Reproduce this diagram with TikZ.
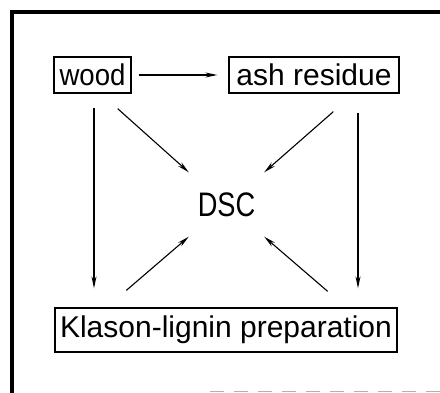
\documentclass[tikz,border=0pt]{standalone}
\usepackage{fontspec}
\setmainfont{Liberation Sans}
\usetikzlibrary{arrows.meta}
\begin{document}
\begin{tikzpicture}[x=1pt,y=-1pt,
  box/.style={draw,line width=1.3pt,inner sep=0pt,minimum height=36pt,font=\fontsize{30}{32}\selectfont},
  conn/.style={line width=1.1pt,-{Stealth[length=12pt,width=5pt]}},
  frame/.style={line width=3.5pt}]
\useasboundingbox (0,0) rectangle (440,393);
\fill[white] (0,0) rectangle (440,393);
\draw[frame] (440,12) -- (12,12) -- (12,393);
\draw[gray!60,line width=1.5pt,dash pattern=on 14pt off 10pt] (210,391.5) -- (440,391.5);
\node[box,minimum width=77pt] (wood) at (92.5,75) {\scalebox{0.92}[1]{wood}};
\node[box,minimum width=170pt] (ash) at (314,75) {ash residue};
\node[box,minimum width=342pt,minimum height=44pt] (klason) at (226,330) {Klason-lignin preparation};
\node[minimum width=75pt,minimum height=64pt,inner sep=0pt,font=\fontsize{34}{36}\selectfont] (dsc) at (226.5,204.5) {\scalebox{0.8}[1]{DSC}};
\draw[conn,shorten <=7pt,shorten >=11pt] (wood.east) -- (ash.west);
\draw[conn,shorten <=14pt,shorten >=19pt] ([xshift=1.5pt]wood.south) -- ([xshift=1.5pt]wood.south |- klason.north);
\draw[conn,shorten <=19pt,shorten >=19pt] ([xshift=44pt]ash.south) -- ([xshift=44pt]ash.south |- klason.north);
\draw[conn] ([shift={(-14,15)}]wood.south east) -- (dsc.north west);
\draw[conn] ([shift={(105,18)}]ash.south west) -- (dsc.north east);
\draw[conn] ([shift={(72,-17)}]klason.north west) -- (dsc.south west);
\draw[conn] ([shift={(-70,-16)}]klason.north east) -- (dsc.south east);
\end{tikzpicture}
\end{document}
